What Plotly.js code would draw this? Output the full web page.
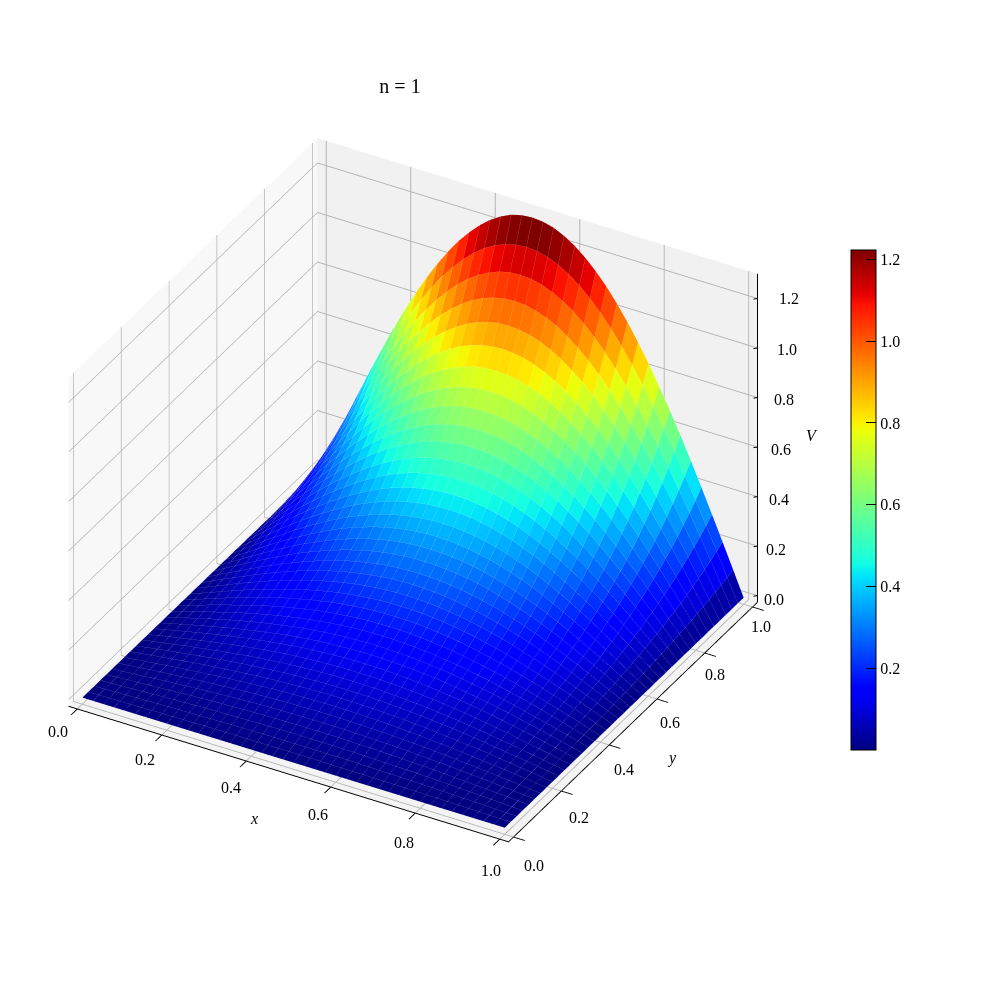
<!DOCTYPE html>
<html><head><meta charset="utf-8"><script src="https://cdn.plot.ly/plotly-3.0.1.min.js"></script>
<style>html,body{margin:0;background:#fff}#c{width:1000px;height:1000px}</style></head><body><div id="c"></div>
<script>
const xs=[0,.025,.05,.075,.1,.125,.15,.175,.2,.225,.25,.275,.3,.325,.35,.375,.4,.425,.45,.475,.5,.525,.55,.575,.6,.625,.65,.675,.7,.725,.75,.775,.8,.825,.85,.875,.9,.925,.95,.975,1];
const ys=xs.slice();
const V=[
[0,0,0,0,0,0,0,0,0,0,0,0,0,0,0,0,0,0,0,0,0,0,0,0,0,0,0,0,0,0,0,0,0,0,0,0,0,0,0,0,0],
[0,.001,.001,.002,.003,.003,.004,.005,.005,.006,.006,.007,.007,.007,.008,.008,.008,.008,.009,.009,.009,.009,.009,.008,.008,.008,.008,.007,.007,.007,.006,.006,.005,.005,.004,.003,.003,.002,.001,.001,0],
[0,.001,.003,.004,.005,.007,.008,.009,.010,.011,.012,.013,.014,.015,.015,.016,.017,.017,.017,.017,.017,.017,.017,.017,.017,.016,.015,.015,.014,.013,.012,.011,.010,.009,.008,.007,.005,.004,.003,.001,0],
[0,.002,.004,.006,.008,.010,.012,.014,.015,.017,.019,.020,.021,.022,.023,.024,.025,.025,.026,.026,.026,.026,.026,.025,.025,.024,.023,.022,.021,.020,.019,.017,.015,.014,.012,.010,.008,.006,.004,.002,0],
[0,.003,.006,.008,.011,.013,.016,.018,.021,.023,.025,.027,.028,.030,.031,.033,.033,.034,.035,.035,.035,.035,.035,.034,.033,.033,.031,.030,.028,.027,.025,.023,.021,.018,.016,.013,.011,.008,.006,.003,0],
[0,.003,.007,.010,.014,.017,.020,.023,.026,.029,.031,.034,.036,.038,.040,.041,.042,.043,.044,.044,.044,.044,.044,.043,.042,.041,.040,.038,.036,.034,.031,.029,.026,.023,.020,.017,.014,.010,.007,.003,0],
[0,.004,.008,.013,.017,.021,.024,.028,.032,.035,.038,.041,.044,.046,.048,.050,.051,.052,.053,.054,.054,.054,.053,.052,.051,.050,.048,.046,.044,.041,.038,.035,.032,.028,.024,.021,.017,.013,.008,.004,0],
[0,.005,.010,.015,.020,.024,.029,.033,.037,.041,.045,.048,.052,.054,.057,.059,.061,.062,.063,.064,.064,.064,.063,.062,.061,.059,.057,.054,.052,.048,.045,.041,.037,.033,.029,.024,.020,.015,.010,.005,0],
[0,.006,.012,.017,.023,.028,.034,.039,.043,.048,.052,.056,.060,.063,.066,.068,.070,.072,.073,.074,.074,.074,.073,.072,.070,.068,.066,.063,.060,.056,.052,.048,.043,.039,.034,.028,.023,.017,.012,.006,0],
[0,.007,.013,.020,.026,.032,.038,.044,.050,.055,.060,.064,.068,.072,.075,.078,.080,.082,.084,.084,.085,.084,.084,.082,.080,.078,.075,.072,.068,.064,.060,.055,.050,.044,.038,.032,.026,.020,.013,.007,0],
[0,.008,.015,.022,.030,.037,.043,.050,.056,.062,.068,.073,.077,.082,.085,.088,.091,.093,.095,.095,.096,.095,.095,.093,.091,.088,.085,.082,.077,.073,.068,.062,.056,.050,.043,.037,.030,.022,.015,.008,0],
[0,.008,.017,.025,.033,.041,.049,.056,.063,.070,.076,.082,.087,.092,.096,.099,.102,.104,.106,.107,.107,.107,.106,.104,.102,.099,.096,.092,.087,.082,.076,.070,.063,.056,.049,.041,.033,.025,.017,.008,0],
[0,.009,.019,.028,.037,.046,.054,.063,.071,.078,.085,.091,.097,.102,.107,.111,.114,.117,.119,.120,.120,.120,.119,.117,.114,.111,.107,.102,.097,.091,.085,.078,.071,.063,.054,.046,.037,.028,.019,.009,0],
[0,.010,.021,.031,.041,.051,.060,.070,.078,.086,.094,.101,.108,.114,.119,.123,.127,.129,.132,.133,.133,.133,.132,.129,.127,.123,.119,.114,.108,.101,.094,.086,.078,.070,.060,.051,.041,.031,.021,.010,0],
[0,.012,.023,.034,.046,.056,.067,.077,.087,.096,.104,.112,.119,.126,.131,.136,.140,.143,.145,.147,.147,.147,.145,.143,.140,.136,.131,.126,.119,.112,.104,.096,.087,.077,.067,.056,.046,.034,.023,.012,0],
[0,.013,.025,.038,.050,.062,.074,.085,.095,.105,.115,.123,.131,.138,.144,.150,.154,.158,.160,.162,.162,.162,.160,.158,.154,.150,.144,.138,.131,.123,.115,.105,.095,.085,.074,.062,.050,.038,.025,.013,0],
[0,.014,.028,.042,.055,.068,.081,.093,.105,.116,.126,.135,.144,.152,.159,.164,.169,.173,.176,.177,.178,.177,.176,.173,.169,.164,.159,.152,.144,.135,.126,.116,.105,.093,.081,.068,.055,.042,.028,.014,0],
[0,.015,.030,.046,.060,.075,.089,.102,.115,.127,.138,.148,.158,.166,.174,.180,.185,.190,.193,.194,.195,.194,.193,.190,.185,.180,.174,.166,.158,.148,.138,.127,.115,.102,.089,.075,.060,.046,.030,.015,0],
[0,.017,.033,.050,.066,.082,.097,.111,.125,.138,.151,.162,.172,.182,.190,.197,.203,.207,.211,.213,.213,.213,.211,.207,.203,.197,.190,.182,.172,.162,.151,.138,.125,.111,.097,.082,.066,.050,.033,.017,0],
[0,.018,.036,.054,.072,.089,.106,.122,.137,.151,.165,.177,.188,.198,.207,.215,.221,.226,.230,.232,.233,.232,.230,.226,.221,.215,.207,.198,.188,.177,.165,.151,.137,.122,.106,.089,.072,.054,.036,.018,0],
[0,.020,.040,.059,.078,.097,.115,.133,.149,.165,.179,.193,.205,.216,.226,.234,.241,.247,.251,.253,.254,.253,.251,.247,.241,.234,.226,.216,.205,.193,.179,.165,.149,.133,.115,.097,.078,.059,.040,.020,0],
[0,.022,.043,.064,.085,.106,.125,.144,.162,.179,.195,.210,.223,.236,.246,.255,.263,.269,.273,.275,.276,.275,.273,.269,.263,.255,.246,.236,.223,.210,.195,.179,.162,.144,.125,.106,.085,.064,.043,.022,0],
[0,.024,.047,.070,.093,.115,.136,.157,.177,.195,.212,.228,.243,.256,.268,.278,.286,.292,.297,.300,.300,.300,.297,.292,.286,.278,.268,.256,.243,.228,.212,.195,.177,.157,.136,.115,.093,.070,.047,.024,0],
[0,.026,.051,.076,.101,.125,.148,.171,.192,.212,.231,.248,.264,.278,.291,.302,.311,.318,.323,.326,.327,.326,.323,.318,.311,.302,.291,.278,.264,.248,.231,.212,.192,.171,.148,.125,.101,.076,.051,.026,0],
[0,.028,.055,.083,.110,.136,.161,.185,.208,.230,.251,.270,.287,.302,.316,.328,.337,.345,.350,.354,.355,.354,.350,.345,.337,.328,.316,.302,.287,.270,.251,.230,.208,.185,.161,.136,.110,.083,.055,.028,0],
[0,.030,.060,.090,.119,.147,.175,.201,.226,.250,.272,.293,.311,.328,.343,.356,.366,.374,.380,.384,.385,.384,.380,.374,.366,.356,.343,.328,.311,.293,.272,.250,.226,.201,.175,.147,.119,.090,.060,.030,0],
[0,.033,.065,.097,.129,.160,.190,.218,.245,.271,.295,.318,.338,.356,.372,.386,.397,.406,.413,.416,.418,.416,.413,.406,.397,.386,.372,.356,.338,.318,.295,.271,.245,.218,.190,.160,.129,.097,.065,.033,0],
[0,.036,.071,.106,.140,.173,.206,.237,.266,.294,.320,.344,.366,.386,.404,.418,.431,.440,.447,.452,.453,.452,.447,.440,.431,.418,.404,.386,.366,.344,.320,.294,.266,.237,.206,.173,.140,.106,.071,.036,0],
[0,.039,.077,.115,.152,.188,.223,.257,.289,.319,.347,.373,.397,.419,.437,.454,.467,.477,.485,.489,.491,.489,.485,.477,.467,.454,.437,.419,.397,.373,.347,.319,.289,.257,.223,.188,.152,.115,.077,.039,0],
[0,.042,.083,.124,.164,.204,.242,.278,.313,.345,.376,.405,.430,.454,.474,.492,.506,.517,.525,.530,.532,.530,.525,.517,.506,.492,.474,.454,.430,.405,.376,.345,.313,.278,.242,.204,.164,.124,.083,.042,0],
[0,.045,.090,.135,.178,.221,.262,.301,.339,.374,.408,.438,.466,.491,.514,.533,.548,.560,.569,.575,.576,.575,.569,.560,.548,.533,.514,.491,.466,.438,.408,.374,.339,.301,.262,.221,.178,.135,.090,.045,0],
[0,.049,.098,.146,.193,.239,.283,.326,.367,.405,.441,.475,.505,.532,.556,.577,.594,.607,.617,.622,.624,.622,.617,.607,.594,.577,.556,.532,.505,.475,.441,.405,.367,.326,.283,.239,.193,.146,.098,.049,0],
[0,.053,.106,.158,.209,.259,.307,.353,.397,.439,.478,.514,.547,.576,.602,.625,.643,.657,.668,.674,.676,.674,.668,.657,.643,.625,.602,.576,.547,.514,.478,.439,.397,.353,.307,.259,.209,.158,.106,.053,0],
[0,.057,.114,.171,.226,.280,.332,.382,.430,.475,.518,.557,.592,.624,.652,.676,.696,.712,.723,.730,.732,.730,.723,.712,.696,.676,.652,.624,.592,.557,.518,.475,.430,.382,.332,.280,.226,.171,.114,.057,0],
[0,.062,.124,.185,.245,.303,.360,.414,.466,.515,.560,.603,.641,.676,.706,.732,.754,.771,.783,.790,.792,.790,.783,.771,.754,.732,.706,.676,.641,.603,.560,.515,.466,.414,.360,.303,.245,.185,.124,.062,0],
[0,.067,.134,.200,.265,.328,.389,.448,.504,.557,.607,.652,.694,.731,.764,.793,.816,.834,.847,.855,.858,.855,.847,.834,.816,.793,.764,.731,.694,.652,.607,.557,.504,.448,.389,.328,.265,.200,.134,.067,0],
[0,.073,.145,.217,.287,.355,.422,.485,.546,.603,.657,.706,.751,.792,.827,.858,.883,.903,.917,.926,.928,.926,.917,.903,.883,.858,.827,.792,.751,.706,.657,.603,.546,.485,.422,.355,.287,.217,.145,.073,0],
[0,.079,.157,.235,.311,.385,.456,.525,.591,.653,.711,.764,.813,.857,.895,.928,.956,.977,.992,1.002,1.005,1.002,.992,.977,.956,.928,.895,.857,.813,.764,.711,.653,.591,.525,.456,.385,.311,.235,.157,.079,0],
[0,.085,.170,.254,.336,.416,.494,.568,.639,.706,.769,.827,.880,.927,.969,1.005,1.034,1.057,1.074,1.084,1.087,1.084,1.074,1.057,1.034,1.005,.969,.927,.880,.827,.769,.706,.639,.568,.494,.416,.336,.254,.170,.085,0],
[0,.092,.184,.275,.364,.450,.534,.615,.692,.764,.832,.895,.952,1.003,1.048,1.087,1.119,1.144,1.162,1.173,1.177,1.173,1.162,1.144,1.119,1.087,1.048,1.003,.952,.895,.832,.764,.692,.615,.534,.450,.364,.275,.184,.092,0],
[0,.100,.199,.297,.393,.487,.578,.665,.748,.827,.900,.968,1.030,1.086,1.134,1.176,1.211,1.238,1.258,1.269,1.273,1.269,1.258,1.238,1.211,1.176,1.134,1.086,1.030,.968,.900,.827,.748,.665,.578,.487,.393,.297,.199,.100,0]
];
const tickX=[0,.2,.4,.6,.8,1];
const tickY=[0,.2,.4,.6,.8,1];
const tickZ=[0,.2,.4,.6,.8,1,1.2];
const jet=[[0,'#000080'],[.11,'#0000ff'],[.125,'#0000ff'],[.34,'#00dbff'],[.35,'#00e6f7'],[.375,'#14ffe2'],[.64,'#eeff08'],[.65,'#f7f600'],[.66,'#ffec00'],[.89,'#ff1300'],[.91,'#e80000'],[1,'#800000']];
const F='"Liberation Serif",serif';
const nx=xs.length,ny=ys.length;
const mx=[],my=[],mz=[],I=[],J=[],K=[],C=[];
for(let r=0;r<ny;r++)for(let c=0;c<nx;c++){mx.push(xs[c]);my.push(ys[r]);mz.push(V[r][c]);}
for(let r=0;r<ny-1;r++)for(let c=0;c<nx-1;c++){
 const a=r*nx+c,b=a+1,d=a+nx,e=d+1,m=(V[r][c]+V[r][c+1]+V[r+1][c]+V[r+1][c+1])/4;
 I.push(a,a);J.push(b,e);K.push(e,d);C.push(m,m);
}
const eyeDir={x:.413,y:-.730,z:.5446};
const off={x:.0068,y:-.012,z:.0148};
const lx=[],ly=[],lz=[];
for(let r=0;r<ny;r++){for(let c=0;c<nx;c++){lx.push(xs[c]+off.x);ly.push(ys[r]+off.y);lz.push(V[r][c]+off.z);}lx.push(null);ly.push(null);lz.push(null);}
for(let c=0;c<nx;c++){for(let r=0;r<ny;r++){lx.push(xs[c]+off.x);ly.push(ys[r]+off.y);lz.push(V[r][c]+off.z);}lx.push(null);ly.push(null);lz.push(null);}
const lo=-1/48,hi=49/48,zlo=-.0265,zhi=1.30;
const tx=[hi,hi],ty=[hi,hi],tz=[zlo,zhi];
tickZ.forEach(t=>{tx.push(null,hi-.006,hi+.016);ty.push(null,hi-.006,hi+.016);tz.push(null,t,t);});
const ax=(rng,tv)=>({title:{text:''},range:rng,autorange:false,tickmode:'array',tickvals:tv,showticklabels:false,ticks:'outside',ticklen:13,tickcolor:'#000',tickwidth:2,
 showbackground:true,showgrid:true,gridcolor:'#b4b4b4',gridwidth:2,zeroline:false,showline:true,linecolor:'#000',linewidth:2,showspikes:false});
const sx=ax([lo,hi],tickX);sx.backgroundcolor='#f8f8f8';
const sy=ax([lo,hi],tickY);sy.backgroundcolor='#f1f1f1';
const sz=ax([zlo,zhi],tickZ);sz.backgroundcolor='#f4f4f4';sz.showline=false;sz.ticks='';
const note=(x,y,z,text,xshift,yshift)=>({x,y,z,text,xshift,yshift,showarrow:false,xanchor:'center',yanchor:'middle',font:{family:F,size:16,color:'#000'}});
const fmt=t=>t.toFixed(1);
const notes=[note(.55,lo,zlo,'<i>x</i>',-56,-38),note(hi,.45,zlo,'<i>y</i>',51,-24),note(hi,hi,.6,'<i>V</i>',54,12)];
tickX.forEach(t=>notes.push(note(t,lo,zlo,fmt(t),-19+10*t,-23-8*t)));
tickY.forEach(t=>notes.push(note(hi,t,zlo,fmt(t),20-12*t,-28+8*t)));
tickZ.forEach(t=>notes.push(note(hi,hi,t,fmt(t),16+13.3*t,-4+3*t)));
Plotly.newPlot('c',[
{type:'mesh3d',x:mx,y:my,z:mz,i:I,j:J,k:K,intensity:C,intensitymode:'cell',colorscale:jet,showscale:true,flatshading:true,
 lighting:{ambient:1,diffuse:0,specular:0,fresnel:0,roughness:1},hoverinfo:'skip',
 colorbar:{x:.851,xanchor:'left',y:.5,yanchor:'middle',len:.5,lenmode:'fraction',thickness:25,thicknessmode:'pixels',xpad:0,ypad:0,outlinecolor:'#000',outlinewidth:1,
  tickvals:[.2,.4,.6,.8,1,1.2],ticktext:['0.2','0.4','0.6','0.8','1.0','1.2'],ticks:'inside',ticklen:10,tickcolor:'#000',tickfont:{family:F,size:16,color:'#000'}}},
{type:'scatter3d',mode:'lines',x:lx,y:ly,z:lz,opacity:.22,line:{color:'#ffffff',width:1},hoverinfo:'skip',showlegend:false},
{type:'scatter3d',mode:'lines',x:tx,y:ty,z:tz,line:{color:'#000',width:2},hoverinfo:'skip',showlegend:false}
],{width:1000,height:1000,margin:{l:0,r:0,t:0,b:0},paper_bgcolor:'#fff',showlegend:false,
 title:{text:'n = 1',x:.4,xanchor:'center',y:.914,yanchor:'middle',font:{family:F,size:20,color:'#000'}},
 scene:{domain:{x:[.013,.813],y:[.11,.91]},xaxis:sx,yaxis:sy,zaxis:sz,annotations:notes,aspectmode:'manual',aspectratio:{x:1.264,y:1.264,z:.979},
  camera:{projection:{type:'orthographic'},eye:{x:eyeDir.x*2.4,y:eyeDir.y*2.4,z:eyeDir.z*2.4},center:{x:0,y:0,z:0},up:{x:0,y:0,z:1}}}
},{displayModeBar:false});
</script></body></html>
